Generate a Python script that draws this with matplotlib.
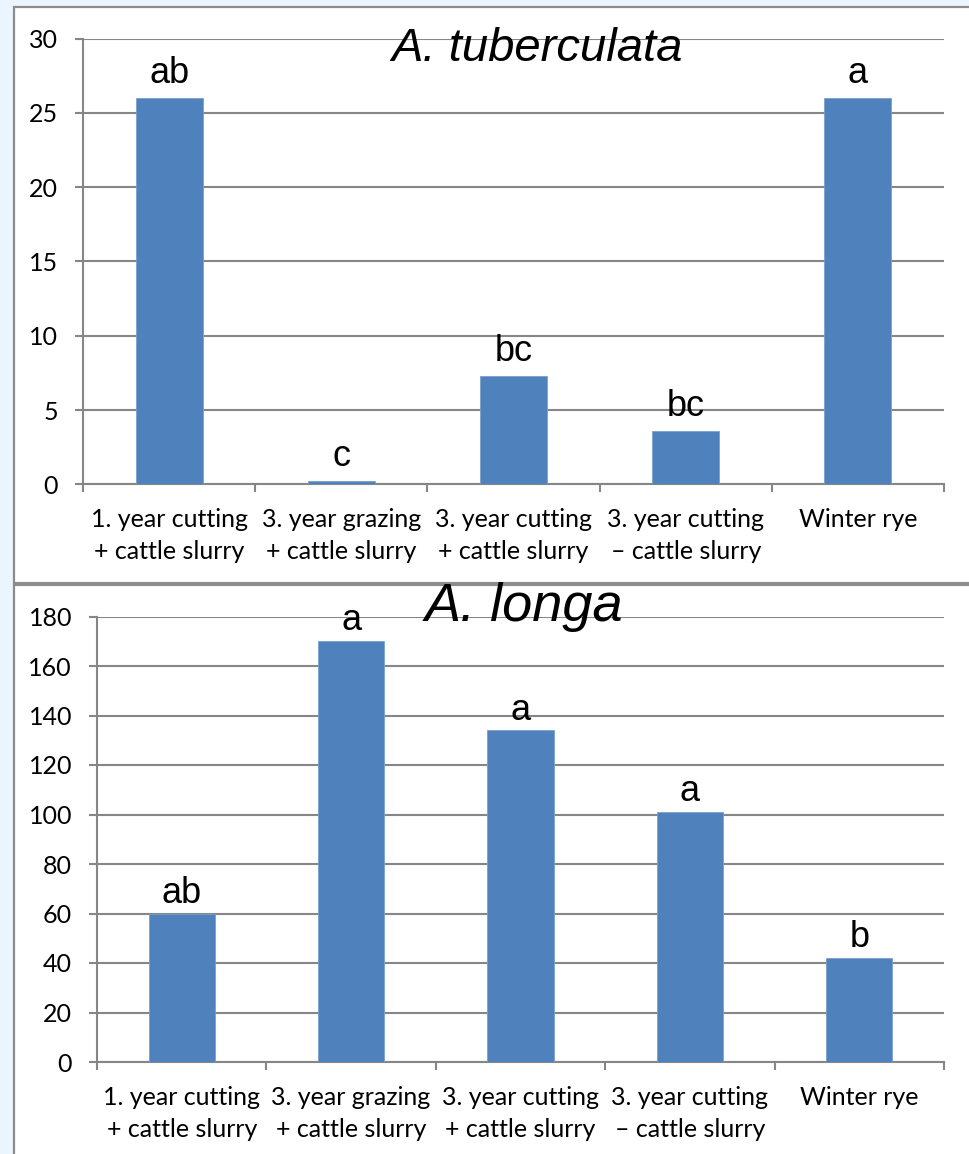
import matplotlib
matplotlib.use("Agg")
import matplotlib.pyplot as plt
from matplotlib.patches import Rectangle

categories = ["1. year cutting\n+ cattle slurry", "3. year grazing\n+ cattle slurry",
              "3. year cutting\n+ cattle slurry", "3. year cutting\n\u2013 cattle slurry",
              "Winter rye"]
tub_values = [26, 0.2, 7.3, 3.6, 26]
tub_letters = ["ab", "c", "bc", "bc", "a"]
longa_values = [60, 170, 134, 101, 42]
longa_letters = ["ab", "a", "a", "a", "b"]
tub_yticks = [0, 5, 10, 15, 20, 25, 30]
longa_yticks = [0, 20, 40, 60, 80, 100, 120, 140, 160, 180]

W, H = 969, 1154
fig = plt.figure(figsize=(W / 100, H / 100), dpi=100)
fig.patch.set_facecolor("#EAF5FD")

def fx(x): return x / W
def fy(y): return 1 - y / H

GRAY = "#868686"
BAR = "#4F81BD"
TICKFONT = "Lato"

# panels
fig.patches.append(Rectangle((fx(14), fy(583)), fx(W + 20 - 14), fy(7) - fy(583),
                             transform=fig.transFigure, facecolor="white",
                             edgecolor="#8C8C8C", linewidth=1.6, zorder=-10))
fig.patches.append(Rectangle((fx(14), fy(H + 20)), fx(W + 20 - 14), fy(585) - fy(H + 20),
                             transform=fig.transFigure, facecolor="white",
                             edgecolor="#8C8C8C", linewidth=1.6, zorder=-10))

def make_panel(rect_px, values, letters, yticks, title, title_xy, title_size, letter_off):
    l, t, r, b = rect_px
    ax = fig.add_axes([fx(l), fy(b), fx(r) - fx(l), fy(t) - fy(b)])
    ax.set_facecolor("none")
    x = list(range(len(categories)))
    ax.bar(x, values, width=0.39, color=BAR, edgecolor="#7BA0CD", linewidth=0.6, zorder=3)
    ax.set_xlim(-0.5, len(categories) - 0.5)
    ax.set_ylim(yticks[0], yticks[-1])
    ax.set_yticks(yticks)
    ax.set_yticklabels([str(v) for v in yticks], fontsize=18, family=TICKFONT)
    ax.yaxis.grid(True, color=GRAY, linewidth=1.5, zorder=0)
    ax.set_axisbelow(True)
    ax.set_xticks([i - 0.5 for i in range(len(categories) + 1)])
    ax.set_xticklabels([])
    ax.set_xticks(x, minor=True)
    ax.set_xticklabels(categories, minor=True, fontsize=18, family=TICKFONT,
                       linespacing=1.5)
    ax.tick_params(axis="x", which="minor", length=0, pad=17)
    ax.tick_params(axis="x", which="major", length=6, width=1.5, color=GRAY)
    ax.tick_params(axis="y", length=6, width=1.5, color=GRAY, pad=12)
    for s in ["top", "right"]:
        ax.spines[s].set_visible(False)
    for s in ["left", "bottom"]:
        ax.spines[s].set_color(GRAY)
        ax.spines[s].set_linewidth(1.5)
    for xi, v, lab in zip(x, values, letters):
        ax.annotate(lab, (xi, v), xytext=(0, letter_off), textcoords="offset points",
                    ha="center", va="bottom", fontsize=26, family="Liberation Sans",
                    zorder=5)
    fig.text(fx(title_xy[0]), fy(title_xy[1]), title, ha="center", va="center",
             fontsize=title_size, style="italic", family="Liberation Sans", zorder=6)
    return ax

make_panel((83, 38.5, 944, 484.3), tub_values, tub_letters, tub_yticks,
           "A. tuberculata", (537, 49), 34, 5)
make_panel((97, 616.5, 944, 1062), longa_values, longa_letters, longa_yticks,
           "A. longa", (524, 607), 39, 2)

fig.savefig("out.png", dpi=100, facecolor=fig.get_facecolor())
